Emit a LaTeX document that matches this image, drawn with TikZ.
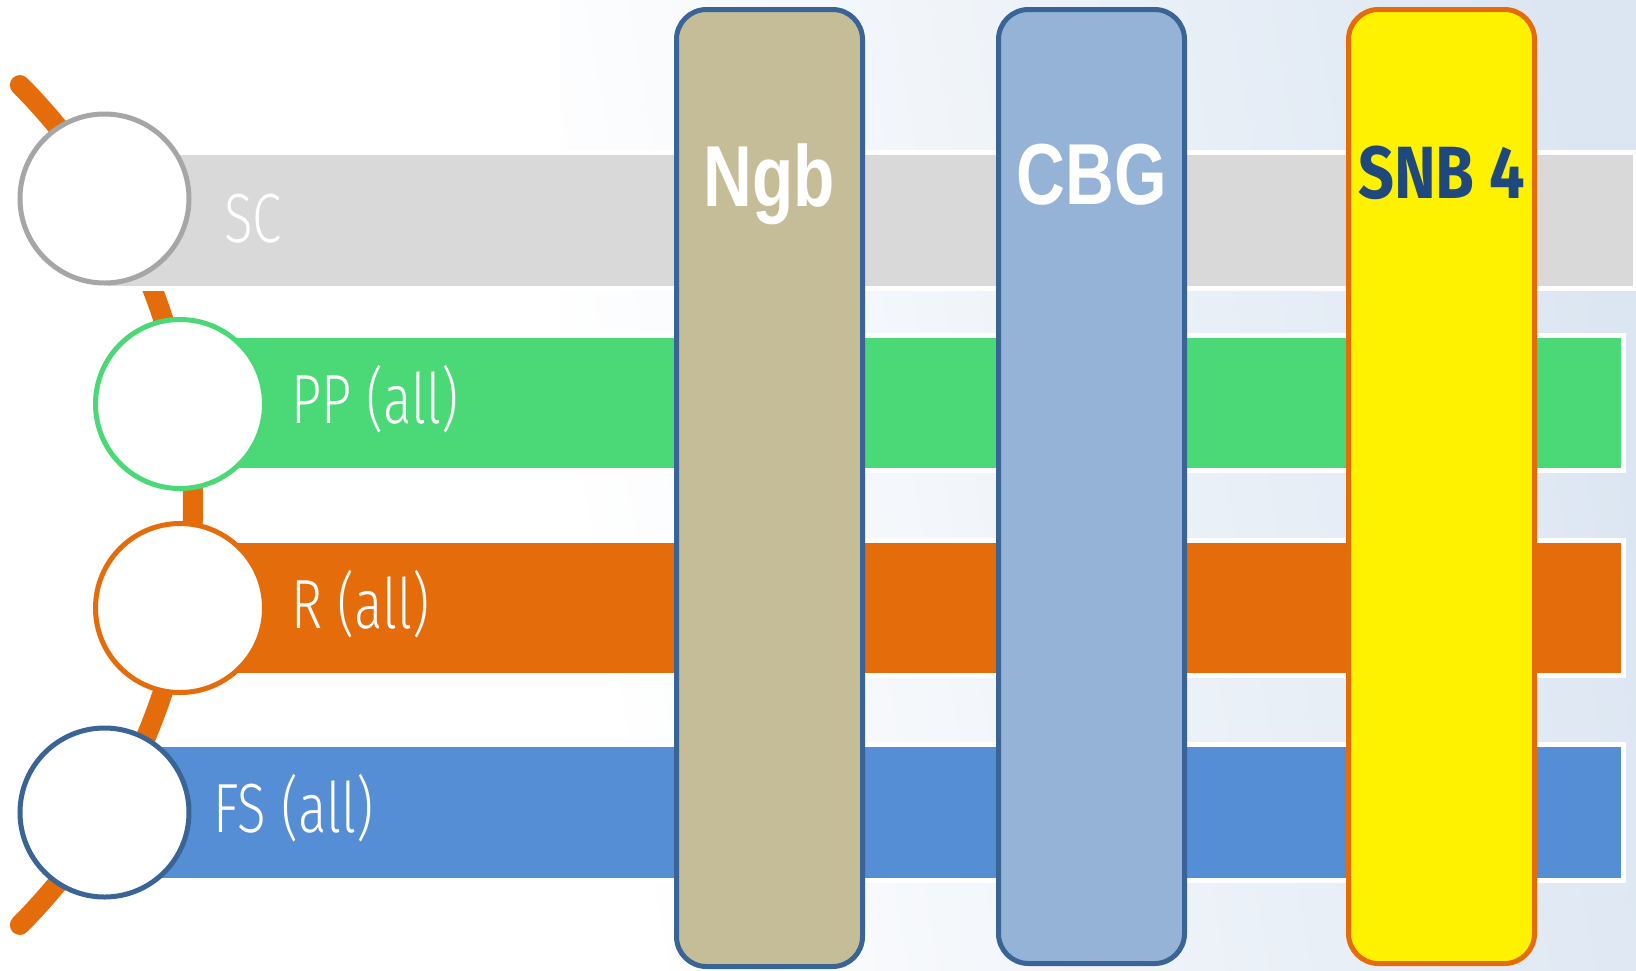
\documentclass[tikz,border=0pt]{standalone}
\usepackage{fontspec}
\newfontfamily\lightfont{Fira Sans Light}[FakeStretch=0.76]
\newfontfamily\narrowbold{Liberation Sans}[FakeStretch=0.78]
\newfontfamily\snbfont{Fira Sans}[FakeStretch=0.85]

\definecolor{bgblue}{HTML}{DCE6F2}
\definecolor{scgray}{HTML}{D9D9D9}
\definecolor{ringgray}{HTML}{A6A6A6}
\definecolor{ppgreen}{HTML}{4AD976}
\definecolor{rorange}{HTML}{E46C0A}
\definecolor{fsblue}{HTML}{558ED5}
\definecolor{edgeblue}{HTML}{3A6496}
\definecolor{ngbfill}{HTML}{C4BD97}
\definecolor{cbgfill}{HTML}{95B3D7}
\definecolor{snbtext}{HTML}{1F497D}

\begin{document}
\begin{tikzpicture}[x=0.5pt,y=-0.5pt,
  bandbar/.style={draw=white, line width=2.5pt},
  ring/.style={circle, fill=white, line width=2.5pt, minimum size=84.5pt, inner sep=0pt},
  bandlabel/.style={anchor=base west, inner sep=0pt, text=white,
    font=\lightfont\fontsize{34.8}{40}\selectfont},
  colbox/.style={rounded corners=15pt, line width=2.5pt},
  coltitle/.style={anchor=base, inner sep=0pt}]

\useasboundingbox (0,0) rectangle (1636,970);

% background: white fading to pale blue towards the right
\fill[white] (0,0) rectangle (1636,970);
\shade[left color=white, right color=bgblue, shading angle=100] (560,0) rectangle (1636,970);

% orange arc behind the rings
\draw[rorange, line width=10pt, line cap=round]
  plot[domain=-44.8:44.8, samples=90, smooth] ({-403+596*cos(\x)},{505+596*sin(\x)});

% horizontal bands
\path[bandbar, fill=scgray] (104,152.5) rectangle (1635.5,288.5);
\path[bandbar, fill=ppgreen] (180,335.5) rectangle (1623.5,470.5);
\path[bandbar, fill=rorange] (180,540.5) rectangle (1623.5,675.5);
\path[bandbar, fill=fsblue] (104,744.5) rectangle (1623.5,880.5);

% rings at the left end of each band
\node[ring, draw=ringgray] (scring) at (104.5,198.5) {};
\node[ring, draw=ppgreen] (ppring) at (180,404) {};
\node[ring, draw=rorange] (rring) at (180,608) {};
\node[ring, draw=edgeblue] (fsring) at (104.5,812.5) {};

% band labels
\node[bandlabel] (sclabel) at (224,242) {SC};
\node[bandlabel] (pplabel) at (291,423) {PP (all)};
\node[bandlabel] (rlabel) at (291,628) {R (all)};
\node[bandlabel] (fslabel) at (213,832) {FS (all)};

% vertical columns
\draw[colbox, draw=edgeblue, fill=ngbfill] (676.5,9.5) rectangle (862.5,966.5);
\draw[colbox, draw=edgeblue, fill=cbgfill] (998.5,9.5) rectangle (1184.5,963.5);
\draw[colbox, draw=rorange, fill=yellow] (1348.5,9.5) rectangle (1534.5,963.5);

\node[coltitle, text=white, font=\narrowbold\bfseries\fontsize{43.3}{50}\selectfont] (ngb) at (769.5,206) {Ngb};
\node[coltitle, text=white, font=\narrowbold\bfseries\fontsize{43.3}{50}\selectfont] (cbg) at (1091.5,204.5) {CBG};
\node[coltitle, text=snbtext, font=\snbfont\bfseries\fontsize{37}{44}\selectfont] (snb) at (1441.5,198) {SNB 4};

\end{tikzpicture}
\end{document}
